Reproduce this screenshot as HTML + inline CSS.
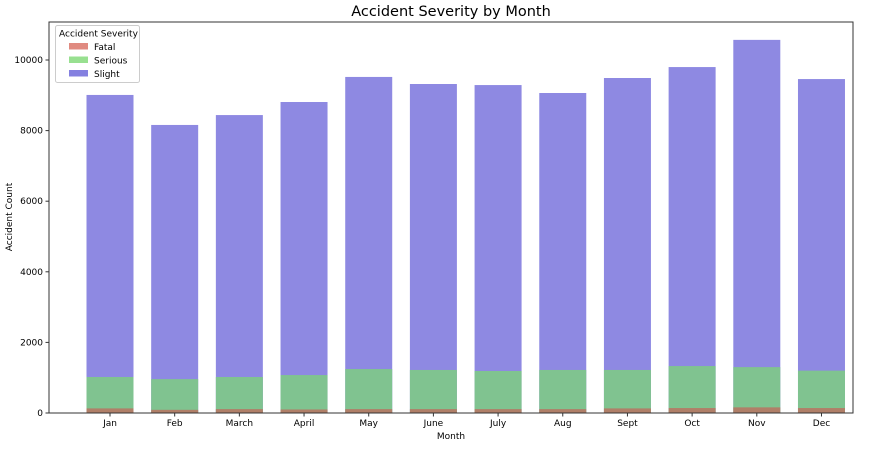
<!DOCTYPE html>
<html><head><meta charset="utf-8"><style>
body{margin:0;background:#fff;font-family:"Liberation Sans","DejaVu Sans",sans-serif;}
svg text{font-family:"DejaVu Sans","Liberation Sans",sans-serif;}
</style></head><body>
<svg id="c" width="877" height="450">
<text x="451" y="16" font-size="14.5" text-anchor="middle" fill="#000">Accident Severity by Month</text>
<text x="451" y="439" font-size="9" text-anchor="middle">Month</text>
<text transform="translate(12,217) rotate(-90)" font-size="9" text-anchor="middle">Accident Count</text>
<g id="bars"></g><g id="axes"></g>
</svg>
<script>
const months=["Jan","Feb","March","April","May","June","July","Aug","Sept","Oct","Nov","Dec"];
const slight=[9010,8160,8440,8810,9520,9320,9290,9065,9490,9800,10570,9460];
const serious=[1020,960,1020,1075,1245,1220,1190,1220,1220,1330,1300,1200];
const fatal=[130,90,110,100,110,110,110,110,130,140,160,140];
const yTicks=[0,2000,4000,6000,8000,10000];
const L=49,R=853,T=22,B=413;
const y=v=>B-v*0.0353;
const x=i=>110+i*64.68;
const bw=47;
const NS="http://www.w3.org/2000/svg";
const svg=document.getElementById('c');
const bars=document.getElementById('bars'),axes=document.getElementById('axes');
function mk(t,a,p){const e=document.createElementNS(NS,t);for(const k in a)e.setAttribute(k,a[k]);(p||svg).appendChild(e);return e;}
const series=[[slight,'#8e89e2','slight'],[serious,'#80c390','serious'],[fatal,'#b07f68','fatal']];
series.forEach(([arr,col,nm])=>{arr.forEach((v,i)=>{
 const r=mk('rect',{x:x(i)-bw/2,y:y(v),width:bw,height:B-y(v),fill:col},bars);
 
 
});});
const fr=mk('rect',{x:L,y:T,width:R-L,height:B-T,fill:'none',stroke:'#333','stroke-width':1},axes);


yTicks.forEach(v=>{
 mk('line',{x1:L-3.5,x2:L,y1:y(v),y2:y(v),stroke:'#333'},axes);
 const t=mk('text',{x:L-6,y:y(v)+3,'font-size':9,'text-anchor':'end'},axes);t.textContent=v;
 
 
});
months.forEach((m,i)=>{
 mk('line',{x1:x(i),x2:x(i),y1:B,y2:B+3.5,stroke:'#333'},axes);
 const t=mk('text',{x:x(i),y:B+13,'font-size':9,'text-anchor':'middle'},axes);t.textContent=m;
 
 
});
const lg=mk('g',{},axes);


mk('rect',{x:55.5,y:25.5,width:84,height:57,rx:2,fill:'#fff',stroke:'#ccc','fill-opacity':0.8},lg);
const lt=mk('text',{x:59,y:36.5,'font-size':9},lg);lt.textContent='Accident Severity';
[['Fatal','#e08a80'],['Serious','#98e090'],['Slight','#8480e0']].forEach(([n,c],k)=>{
 mk('rect',{x:69,y:43+k*13.5,width:19,height:6.5,fill:c},lg);
 const t=mk('text',{x:94,y:50+k*13.5,'font-size':9},lg);t.textContent=n;
 
 
});
</script>
</body></html>
